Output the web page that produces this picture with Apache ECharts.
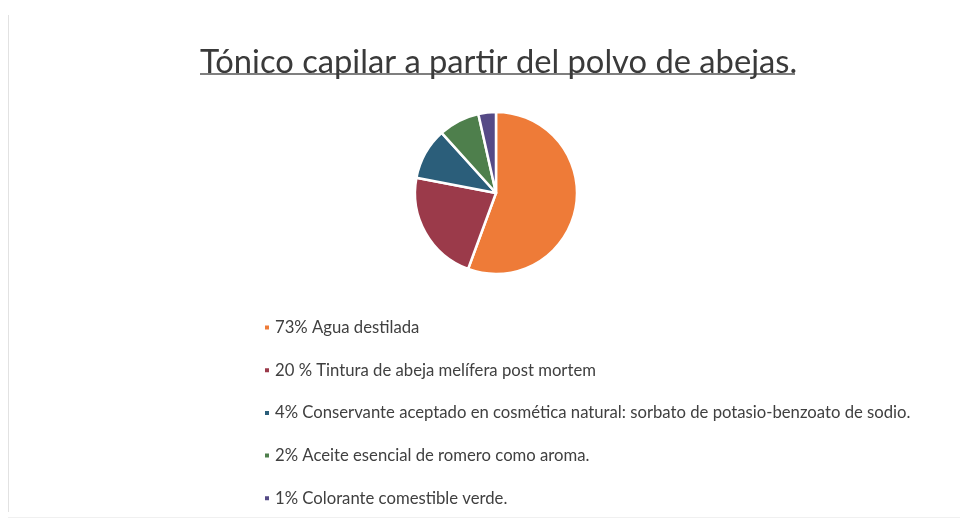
<!DOCTYPE html>
<html>
<head>
<meta charset="utf-8">
<script src="https://cdn.jsdelivr.net/npm/echarts@6/dist/echarts.min.js"></script>
<style>html,body{margin:0;padding:0;background:#fff;}#c{width:968px;height:527px;}</style>
</head>
<body>
<div id="c"></div>
<script>
var titleText = 'Tónico capilar a partir del polvo de abejas.';
var categories = [
  '73% Agua destilada',
  '20 % Tintura de abeja melífera post mortem',
  '4% Conservante aceptado en cosmética natural: sorbato de potasio-benzoato de sodio.',
  '2% Aceite esencial de romero como aroma.',
  '1% Colorante comestible verde.'
];
var values = [55.6, 22.4, 10.3, 8.2, 3.5];
var colors = ['#EE7B38', '#9B3A4A', '#2B5E7A', '#4E7F4C', '#554A86'];

var chart = echarts.init(document.getElementById('c'), null, {renderer: 'canvas'});
chart.setOption({
  backgroundColor: '#ffffff',
  animation: false,
  color: colors,
  title: {
    text: titleText,
    left: 195,
    top: 41,
    textStyle: {fontFamily: 'Lato', fontWeight: 'normal', fontSize: 32.7, color: '#3a3a3a'}
  },
  legend: {
    orient: 'vertical',
    left: 258,
    top: 314,
    icon: 'rect',
    itemWidth: 6,
    itemHeight: 6,
    itemGap: 25.7,
    textStyle: {fontFamily: 'Lato', fontSize: 16.7, color: '#404040', lineHeight: 16},
    data: categories
  },
  graphic: [
    {type: 'line', shape: {x1: 200, y1: 74, x2: 795, y2: 74}, style: {stroke: '#555', lineWidth: 1.5}},
    {type: 'line', shape: {x1: 8.5, y1: 15, x2: 8.5, y2: 512}, style: {stroke: '#e2e2e2', lineWidth: 1}},
    {type: 'line', shape: {x1: 8, y1: 517.5, x2: 960, y2: 517.5}, style: {stroke: '#f0f0f0', lineWidth: 1}}
  ],
  series: [{
    type: 'pie',
    center: [496, 193],
    radius: 81,
    startAngle: 90,
    clockwise: true,
    label: {show: false},
    labelLine: {show: false},
    itemStyle: {borderColor: '#fff', borderWidth: 2.5},
    data: categories.map(function (c, i) { return {name: c, value: values[i]}; })
  }]
});
</script>
</body>
</html>
